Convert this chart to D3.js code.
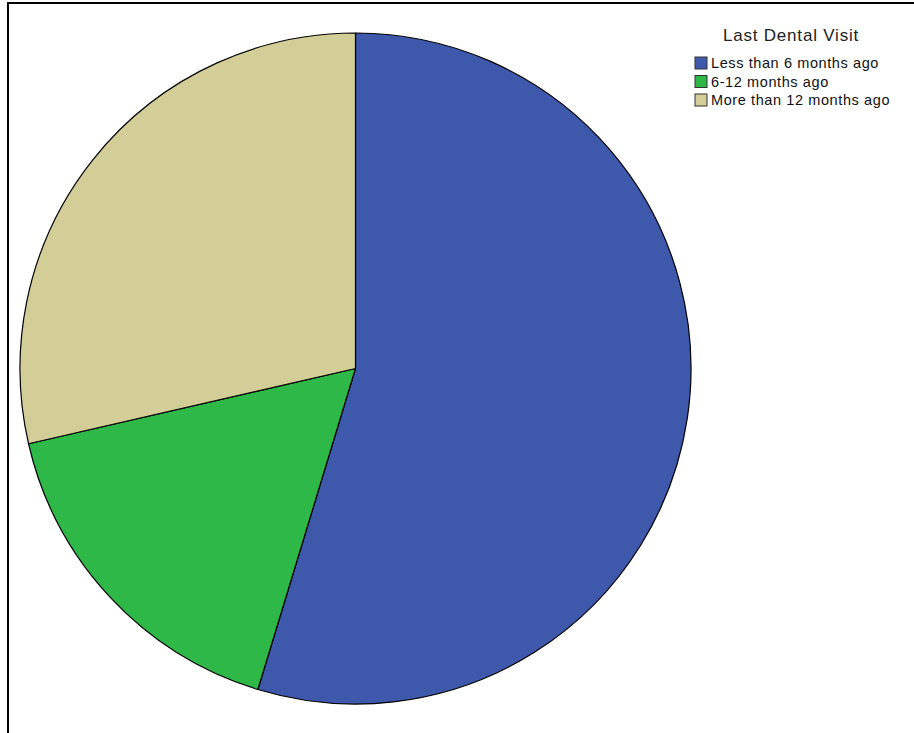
<!DOCTYPE html>
<html>
<head>
<meta charset="utf-8">
<script src="https://cdn.jsdelivr.net/npm/d3@7"></script>
<style>
  body { margin: 0; background: #fff; }
  svg { display: block; font-family: "Liberation Sans", Arial, sans-serif; }
</style>
</head>
<body>
<div id="chart"></div>
<script>
// data (percent of respondents)
var categories = ["Less than 6 months ago", "6-12 months ago", "More than 12 months ago"];
var values = [54.7, 16.7, 28.6];
var colors = ["#3e58ac", "#2eb848", "#d3ce97"];
var legendTitle = "Last Dental Visit";

var W = 914, H = 733;
var cx = 355.5, cy = 368.5, radius = 335.5;

var svg = d3.select("#chart").append("svg")
  .attr("width", W)
  .attr("height", H);

// frame (only top and left edges show in the crop)
svg.append("line")
  .attr("x1", 7).attr("y1", 3).attr("x2", W).attr("y2", 3)
  .style("stroke", "#000").style("stroke-width", 2);
svg.append("line")
  .attr("x1", 8).attr("y1", 2).attr("x2", 8).attr("y2", H)
  .style("stroke", "#000").style("stroke-width", 2);

var pie = d3.pie().sort(null).value(function (d) { return d; });
var arc = d3.arc().innerRadius(0).outerRadius(radius);

var g = svg.append("g")
  .attr("transform", "translate(" + cx + "," + cy + ")");

g.selectAll(".slice")
  .data(pie(values))
  .enter().append("path")
  .attr("class", "slice")
  .attr("d", arc)
  .style("fill", function (d, i) { return colors[i]; })
  .style("stroke", "#000")
  .style("stroke-width", 1.2)
  .style("stroke-linejoin", "round");

// legend
var legend = svg.append("g").attr("transform", "translate(695,0)");
legend.append("text")
  .attr("x", 96)
  .attr("y", 41)
  .attr("text-anchor", "middle")
  .style("font-size", "17px")
  .style("letter-spacing", "0.8px")
  .attr("fill", "#222")
  .text(legendTitle);

var item = legend.selectAll(".item")
  .data(categories)
  .enter().append("g")
  .attr("class", "item")
  .attr("transform", function (d, i) { return "translate(0," + (57 + i * 18.5) + ")"; });

item.append("rect")
  .attr("width", 12)
  .attr("height", 12)
  .style("fill", function (d, i) { return colors[i]; })
  .style("stroke", "#333")
  .style("stroke-width", 1);

item.append("text")
  .attr("x", 16)
  .attr("y", 11)
  .style("font-size", "14.5px")
  .style("letter-spacing", "0.6px")
  .attr("fill", "#111")
  .text(function (d) { return d; });
</script>
</body>
</html>
